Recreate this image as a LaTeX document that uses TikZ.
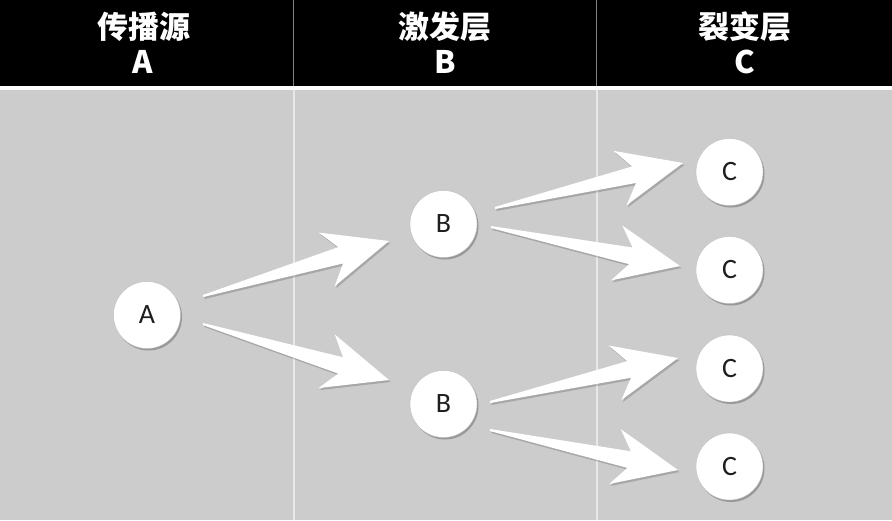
\documentclass[tikz,border=0pt]{standalone}
\usepackage{fontspec}
\setmainfont{Carlito}
\newfontfamily\cjk{Noto Sans CJK SC}
\usetikzlibrary{calc,shadows}
\definecolor{bodygray}{RGB}{204,204,204}
\definecolor{hdrline}{RGB}{130,130,130}
\definecolor{bodyline}{RGB}{232,232,232}
\definecolor{lbl}{RGB}{30,30,30}
\tikzset{
  hdrtext/.style={text=white, font=\cjk\bfseries\fontsize{31}{33}\selectfont, inner sep=0pt, anchor=center},
  ball/.style={circle, fill=white, draw=black!25, line width=0.4pt, minimum size=67pt, inner sep=0pt,
    text=lbl, font=\fontsize{28}{30}\selectfont,
    drop shadow={shadow xshift=1.5pt, shadow yshift=-2pt, opacity=0.25, fill=black}},
  fatarrowstyle/.style={fill=white,
    drop shadow={shadow xshift=1.5pt, shadow yshift=-2pt, opacity=0.18, fill=black}}
}
\newcommand\fatarrow[2]{%
  \fill[fatarrowstyle]
    ($(#1)!1pt!90:(#2)$) --
    ($(#1)!0.74!(#2)!8.5pt!90:(#2)$) --
    ($(#1)!0.665!(#2)!28pt!90:(#2)$) --
    (#2) --
    ($(#1)!0.665!(#2)!28pt!-90:(#2)$) --
    ($(#1)!0.74!(#2)!8.5pt!-90:(#2)$) --
    ($(#1)!1pt!-90:(#2)$) -- cycle;}
\begin{document}
\begin{tikzpicture}[x=1pt,y=-1pt]
\useasboundingbox (0,0) rectangle (892,520);
% background
\fill[bodygray] (0,0) rectangle (892,520);
\fill[black] (0,0) rectangle (892,86);
\fill[white] (0,86) rectangle (892,89.5);
% dividers
\draw[hdrline, line width=1.5pt] (293.5,0) -- (293.5,86);
\draw[hdrline, line width=1.5pt] (596.5,0) -- (596.5,86);
\draw[bodyline, line width=2pt] (293.5,89.5) -- (293.5,520);
\draw[bodyline, line width=2pt] (596.5,89.5) -- (596.5,520);
% header text
\node[hdrtext] (h1) at (144,27) {传播源};
\node[hdrtext] (h1b) at (143,62) {A};
\node[hdrtext] (h2) at (445,27) {激发层};
\node[hdrtext] (h2b) at (445,62) {B};
\node[hdrtext] (h3) at (745,27) {裂变层};
\node[hdrtext] (h3b) at (745,62) {C};
% arrow endpoints
\coordinate (t1) at (203,296); \coordinate (p1) at (389,241);
\coordinate (t2) at (203,324); \coordinate (p2) at (389,380);
\coordinate (t3) at (495,208); \coordinate (p3) at (683,163);
\coordinate (t4) at (491,227); \coordinate (p4) at (680,266);
\coordinate (t5) at (490,402); \coordinate (p5) at (678,358);
\coordinate (t6) at (490,430); \coordinate (p6) at (678,470);
\fatarrow{t1}{p1}
\fatarrow{t2}{p2}
\fatarrow{t3}{p3}
\fatarrow{t4}{p4}
\fatarrow{t5}{p5}
\fatarrow{t6}{p6}
% nodes
\node[ball] (a) at (147,315) {A};
\node[ball] (b1) at (443.5,224) {B};
\node[ball] (b2) at (443.5,404) {B};
\node[ball] (c1) at (729.5,172) {C};
\node[ball] (c2) at (729.5,270) {C};
\node[ball] (c3) at (729.5,368.5) {C};
\node[ball] (c4) at (729.5,466.5) {C};
\end{tikzpicture}
\end{document}
